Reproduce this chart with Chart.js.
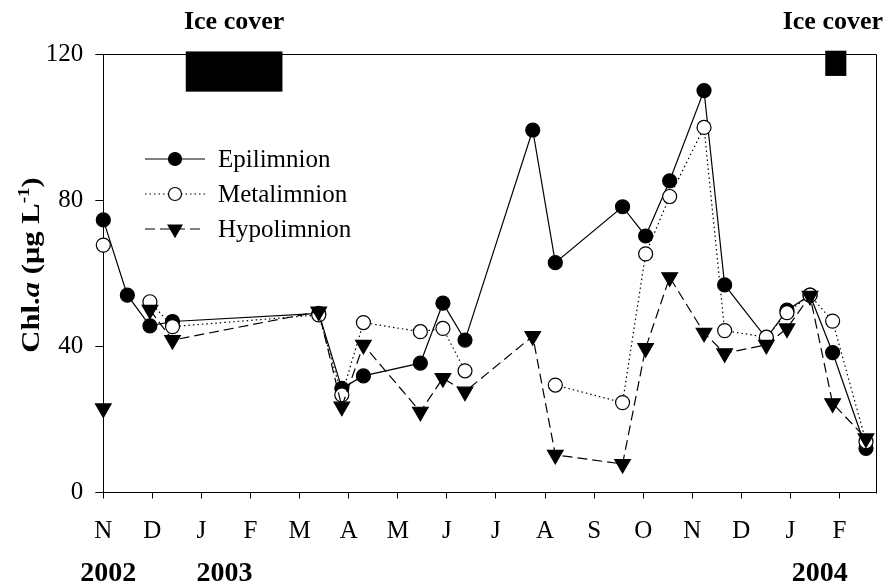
<!DOCTYPE html>
<html>
<head>
<meta charset="utf-8">
<title>Chl.a in the lake layers, 2002-2004</title>
<script src="https://cdn.jsdelivr.net/npm/chart.js@4.4.1/dist/chart.umd.min.js"></script>
<style>
  html, body { margin: 0; padding: 0; background: #fff; }
</style>
</head>
<body>
<canvas id="chlChart" width="886" height="588"></canvas>
<script>
// sampling dates, in months counted from 1 Nov 2002
const sampleMonths = [0, 0.49, 0.95, 1.41, 4.39, 4.86, 5.30, 6.46, 6.92, 7.37, 8.75, 9.21,
  10.58, 11.05, 11.54, 12.24, 12.66, 13.51, 13.93, 14.40, 14.86, 15.54];

// chlorophyll a, µg/L (null = not sampled)
const epilimnion = [74.6, 54.0, 45.6, 46.8, 49.0, 28.5, 31.9, 35.4, 51.8, 41.7, 99.2, 62.9,
  78.2, 70.2, 85.3, 110.0, 56.8, 42.2, 49.9, 54.0, 38.3, 12.1];
const metalimnion = [67.7, null, 52.2, 45.4, 48.6, 26.7, 46.5, 44.0, 44.9, 33.3, null, 29.4,
  24.6, 65.3, 81.0, 99.9, 44.3, 42.5, 49.2, 54.0, 46.9, 13.9];
const hypolimnion = [23.0, null, 50.0, 41.7, 49.5, 23.5, 40.4, 22.1, 31.3, 27.6, 42.8, 10.3,
  7.8, 39.5, 58.9, 43.7, 38.1, 40.4, 44.9, 53.8, 24.4, 14.8];

const monthTicks = [0, 1, 2, 3, 4, 5, 6, 7, 8, 9, 10, 11, 12, 13, 14, 15];
const monthLabels = ['N', 'D', 'J', 'F', 'M', 'A', 'M', 'J', 'J', 'A', 'S', 'O', 'N', 'D', 'J', 'F'];
const yearTicks = [0.1, 2.47, 14.6];
const yearLabels = ['2002', '2003', '2004'];

// ice cover periods (months) and the box extent on the y scale
const iceFrom = [1.68, 14.71];
const iceTo = [3.65, 15.14];
const iceHigh = [120.7, 120.9];
const iceLow = [109.7, 114.0];

const SERIF = '"Liberation Serif", "Times New Roman", serif';
const X_MAX = 15.74;

function pairs(ys) {
  return sampleMonths.map((m, i) => ({ x: m, y: ys[i] }));
}

const seriesStyle = [
  { label: 'Epilimnion', dash: [], fill: '#000', style: 'circle', rotation: 0, radius: 7, legendRadius: 6.5 },
  { label: 'Metalimnion', dash: [1.5, 3], fill: '#fff', style: 'circle', rotation: 0, radius: 7, legendRadius: 6.5 },
  { label: 'Hypolimnion', dash: [10, 5], fill: '#000', style: 'triangle', rotation: 180, radius: 9, legendRadius: 8 }
];

// top/right frame, ice cover boxes, legend and y title
const decorations = {
  id: 'decorations',
  afterDraw(chart) {
    const { ctx, chartArea: a, scales: { x, y } } = chart;
    ctx.save();

    // frame
    ctx.strokeStyle = '#000';
    ctx.lineWidth = 1;
    ctx.setLineDash([]);
    ctx.beginPath();
    ctx.moveTo(Math.round(a.left) + 0.5, Math.round(a.top) + 0.5);
    ctx.lineTo(Math.round(a.right) + 0.5, Math.round(a.top) + 0.5);
    ctx.lineTo(Math.round(a.right) + 0.5, Math.round(a.bottom) + 0.5);
    ctx.stroke();

    // ice cover
    ctx.fillStyle = '#000';
    ctx.font = 'bold 26px ' + SERIF;
    ctx.textAlign = 'center';
    ctx.textBaseline = 'alphabetic';
    for (let i = 0; i < iceFrom.length; i++) {
      const x0 = x.getPixelForValue(iceFrom[i]);
      const x1 = x.getPixelForValue(iceTo[i]);
      const y0 = y.getPixelForValue(iceHigh[i]);
      const y1 = y.getPixelForValue(iceLow[i]);
      ctx.fillRect(x0, y0, x1 - x0, y1 - y0);
      const w = ctx.measureText('Ice cover').width;
      let cx = (x0 + x1) / 2;
      if (cx + w / 2 > chart.width - 3) cx = chart.width - 3 - w / 2;
      ctx.fillText('Ice cover', cx, 29);
    }

    // legend
    const rows = [159, 194, 229];
    ctx.textAlign = 'left';
    ctx.textBaseline = 'middle';
    ctx.font = '25px ' + SERIF;
    seriesStyle.forEach((s, i) => {
      const ry = rows[i];
      ctx.strokeStyle = '#000';
      ctx.lineWidth = 1.2;
      ctx.setLineDash(s.dash);
      ctx.beginPath();
      ctx.moveTo(145, ry);
      ctx.lineTo(205, ry);
      ctx.stroke();
      ctx.setLineDash([]);
      ctx.fillStyle = s.fill;
      ctx.beginPath();
      if (s.style === 'circle') {
        ctx.arc(175, ry, s.legendRadius, 0, Math.PI * 2);
      } else {
        const r = s.legendRadius;
        ctx.moveTo(175 - r * 0.866, ry - r * 0.5);
        ctx.lineTo(175 + r * 0.866, ry - r * 0.5);
        ctx.lineTo(175, ry + r);
        ctx.closePath();
      }
      ctx.fill();
      ctx.lineWidth = 1.2;
      ctx.stroke();
      ctx.fillStyle = '#000';
      ctx.fillText(s.label, 218, ry + 1);
    });

    // y axis title: Chl.a (µg L-1)
    const parts = [
      { t: 'Chl.', f: 'bold 26px ' + SERIF, dy: 0 },
      { t: 'a', f: 'italic bold 26px ' + SERIF, dy: 0 },
      { t: ' (\u03bcg L', f: 'bold 26px ' + SERIF, dy: 0 },
      { t: '-1', f: 'bold 16px ' + SERIF, dy: -10 },
      { t: ')', f: 'bold 26px ' + SERIF, dy: 0 }
    ];
    ctx.translate(38.5, 265);
    ctx.rotate(-Math.PI / 2);
    ctx.scale(1.18, 1);
    ctx.textBaseline = 'alphabetic';
    let total = 0;
    parts.forEach(p => { ctx.font = p.f; total += ctx.measureText(p.t).width; });
    let px = -total / 2;
    parts.forEach(p => {
      ctx.font = p.f;
      ctx.fillText(p.t, px, p.dy);
      px += ctx.measureText(p.t).width;
    });

    ctx.restore();
  }
};

new Chart(document.getElementById('chlChart'), {
  type: 'line',
  data: {
    datasets: [
      { data: pairs(epilimnion), order: 2 },
      { data: pairs(metalimnion), order: 1 },
      { data: pairs(hypolimnion), order: 0 }
    ].map((d, i) => Object.assign(d, {
      label: seriesStyle[i].label,
      borderColor: '#000',
      borderWidth: 1.2,
      borderDash: seriesStyle[i].dash,
      pointStyle: seriesStyle[i].style,
      pointRotation: seriesStyle[i].rotation,
      pointRadius: seriesStyle[i].radius,
      pointBackgroundColor: seriesStyle[i].fill,
      pointBorderColor: '#000',
      pointBorderWidth: 1.2,
      tension: 0,
      spanGaps: false,
      clip: false
    }))
  },
  options: {
    responsive: false,
    animation: false,
    devicePixelRatio: 1,
    layout: { padding: { top: 54, right: 9.3, left: 0, bottom: 0 } },
    plugins: { legend: { display: false }, tooltip: { enabled: false } },
    scales: {
      x: {
        type: 'linear',
        position: 'bottom',
        weight: 0,
        min: 0,
        max: X_MAX,
        afterBuildTicks: s => { s.ticks = monthTicks.map(v => ({ value: v })); },
        afterFit: s => { s.height = 52; },
        grid: { drawOnChartArea: false, drawTicks: true, tickLength: 6, color: '#000', lineWidth: 1 },
        border: { color: '#000', width: 1 },
        ticks: {
          autoSkip: false,
          maxRotation: 0,
          padding: 18,
          color: '#000',
          font: { family: SERIF, size: 25 },
          callback: (v, i) => monthLabels[i]
        }
      },
      yr: {
        type: 'linear',
        position: 'bottom',
        weight: 1,
        min: 0,
        max: X_MAX,
        afterBuildTicks: s => { s.ticks = yearTicks.map(v => ({ value: v })); },
        afterFit: s => { s.height = 43.5; },
        grid: { display: false },
        border: { display: false },
        ticks: {
          autoSkip: false,
          maxRotation: 0,
          padding: 4,
          color: '#000',
          font: { family: SERIF, size: 28, weight: 'bold' },
          callback: (v, i) => yearLabels[i]
        }
      },
      y: {
        type: 'linear',
        position: 'left',
        min: 0,
        max: 120,
        afterFit: s => { s.width = 103.3; },
        grid: { drawOnChartArea: false, drawTicks: true, tickLength: 8, color: '#000', lineWidth: 1 },
        border: { color: '#000', width: 1 },
        ticks: {
          stepSize: 40,
          padding: 12,
          color: '#000',
          font: { family: SERIF, size: 25 }
        }
      }
    }
  },
  plugins: [decorations]
});
</script>
</body>
</html>
